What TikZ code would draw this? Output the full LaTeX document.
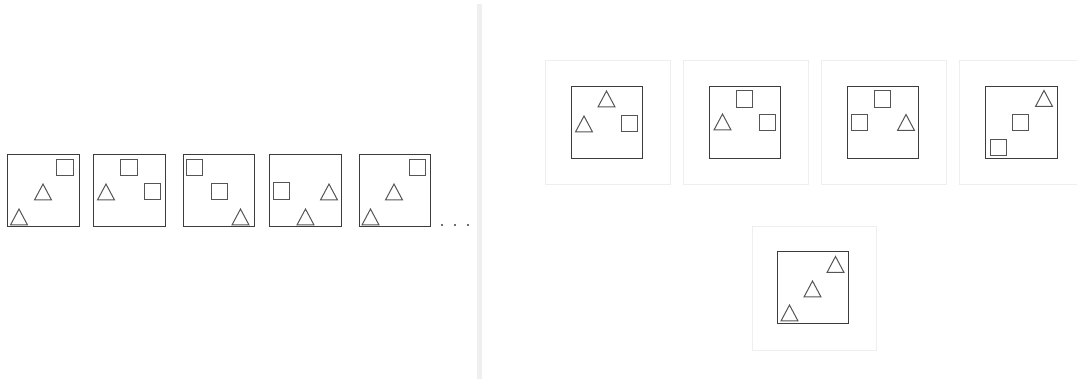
\documentclass[tikz,border=0pt]{standalone}
\usetikzlibrary{positioning}
\definecolor{boxc}{HTML}{3C3C3C}
\definecolor{shpc}{HTML}{555555}
\definecolor{framec}{HTML}{EEEEEE}
\definecolor{divc}{HTML}{EFEFEF}
\tikzset{
  panel/.style={draw=boxc, line width=1pt},
  shp/.style={draw=shpc, line width=1pt, line join=miter},
  frame/.style={draw=framec, line width=1pt},
}
\newcommand\mytri[2]{\draw[shp] ({#1-8.5},{#2+8}) -- ({#1+8.5},{#2+8}) -- (#1,{#2-8}) -- cycle;}
\newcommand\mysq[2]{\draw[shp] ({#1-8.3},{#2-8.3}) rectangle ({#1+8.3},{#2+8.3});}
\begin{document}
\begin{tikzpicture}[x=1pt,y=-1pt]
\useasboundingbox (0,0) rectangle (1077,379);
% divider
\fill[divc] (477,4) rectangle (482,379);
% left row
\draw[panel] (7,155) rectangle (79,227);
\mysq{65}{167.5}\mytri{43}{192}\mytri{19}{217}
\draw[panel] (93,155) rectangle (165,227);
\mysq{129}{167.5}\mysq{152.5}{191.5}\mytri{106}{192}
\draw[panel] (183,155) rectangle (254,227);
\mysq{194.5}{167.5}\mysq{219.5}{191.5}\mytri{240.5}{217}
\draw[panel] (269,155) rectangle (341,227);
\mysq{281.5}{191}\mytri{329}{192}\mytri{305.5}{217}
\draw[panel] (359,155) rectangle (430,227);
\mysq{417.5}{167.5}\mytri{394}{192}\mytri{370.5}{217}
% dots
\foreach \x in {442,455,468} \fill[boxc] (\x,225) circle (1.2);
% right frames
\draw[frame] (545,61) rectangle (670,185);
\draw[frame] (683,61) rectangle (808,185);
\draw[frame] (821,61) rectangle (946,185);
\draw[frame] (959,61) rectangle (1084,185);
\draw[frame] (752,227) rectangle (876,351);
% right panels
\draw[panel] (571,87) rectangle (642,159);
\mytri{606.5}{99}\mytri{584}{124}\mysq{629.5}{123.5}
\draw[panel] (709,87) rectangle (780,159);
\mysq{744.5}{99}\mysq{767.5}{122.5}\mytri{722.5}{122}
\draw[panel] (847,87) rectangle (918,159);
\mysq{882.5}{99}\mysq{859.5}{122.5}\mytri{906}{122.5}
\draw[panel] (985,87) rectangle (1057,159);
\mytri{1044}{98.5}\mysq{1020.5}{122.5}\mysq{998.5}{147.5}
\draw[panel] (777,252) rectangle (848,324);
\mytri{835.5}{264.5}\mytri{812.5}{289}\mytri{789.5}{313}
\end{tikzpicture}
\end{document}
